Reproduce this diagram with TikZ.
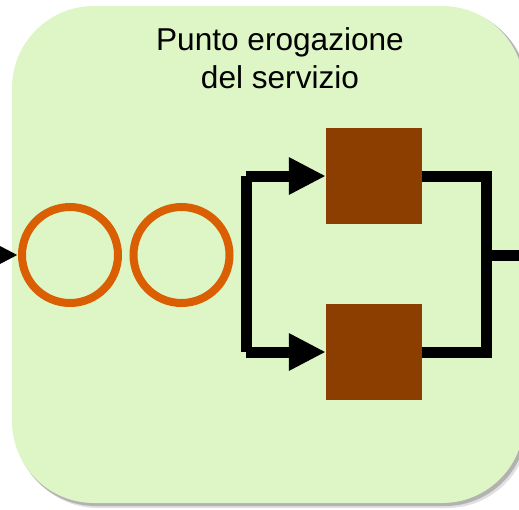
\documentclass[tikz,border=0pt]{standalone}
\usepackage{fontspec}
\setmainfont{Liberation Sans}
\usetikzlibrary{arrows.meta,positioning}

\definecolor{areagreen}{RGB}{222,246,197}
\definecolor{queueorange}{RGB}{217,95,2}
\definecolor{serverbrown}{RGB}{140,62,0}

\begin{document}
\begin{tikzpicture}[x=1pt,y=-1pt,
	queue/.style={circle, draw=queueorange, line width=8pt, minimum size=96pt, inner sep=0pt},
	server/.style={rectangle, fill=serverbrown, minimum size=96pt, inner sep=0pt},
	flow/.style={line width=11pt, line join=miter},
	flowarrow/.style={flow, -{Triangle[length=37pt,width=35pt]}}]
				\useasboundingbox (0,0) rectangle (519,509);

				% service area with its shadow
				\fill[black!12, rounded corners=82pt] (16,10) rectangle (529,508);
				\fill[black!30, rounded corners=82pt] (14,8) rectangle (527,506);
				\fill[areagreen, rounded corners=82pt] (12,6) rectangle (524,503);

				\node[anchor=north, inner sep=0pt, align=center, font=\fontsize{31.6}{38}\selectfont] (title) at (280,27) {Punto erogazione\\del servizio};

				\node[queue] (q1) at (70,255) {};
				\node[queue] (q2) at (181.5,255) {};

				\node[server] (s1) at (374,176) {};
				\node[server] (s2) at (374,352) {};

				\coordinate (in) at (-60,255);
				\coordinate (fork) at (246,255);
				\coordinate (join) at (486,255);
				\coordinate (out) at (530,255);

				\draw[flowarrow] (in) -- (q1.west);
				\draw[flow] (fork |- s1) -- (fork |- s2);
				\draw[flowarrow] (fork |- s1) -- (s1.west);
				\draw[flowarrow] (fork |- s2) -- (s2.west);
				\draw[flow] (s1.east) -| (join) |- (s2.east);
				\draw[flow] (join) -- (out);
			\end{tikzpicture}
\end{document}
